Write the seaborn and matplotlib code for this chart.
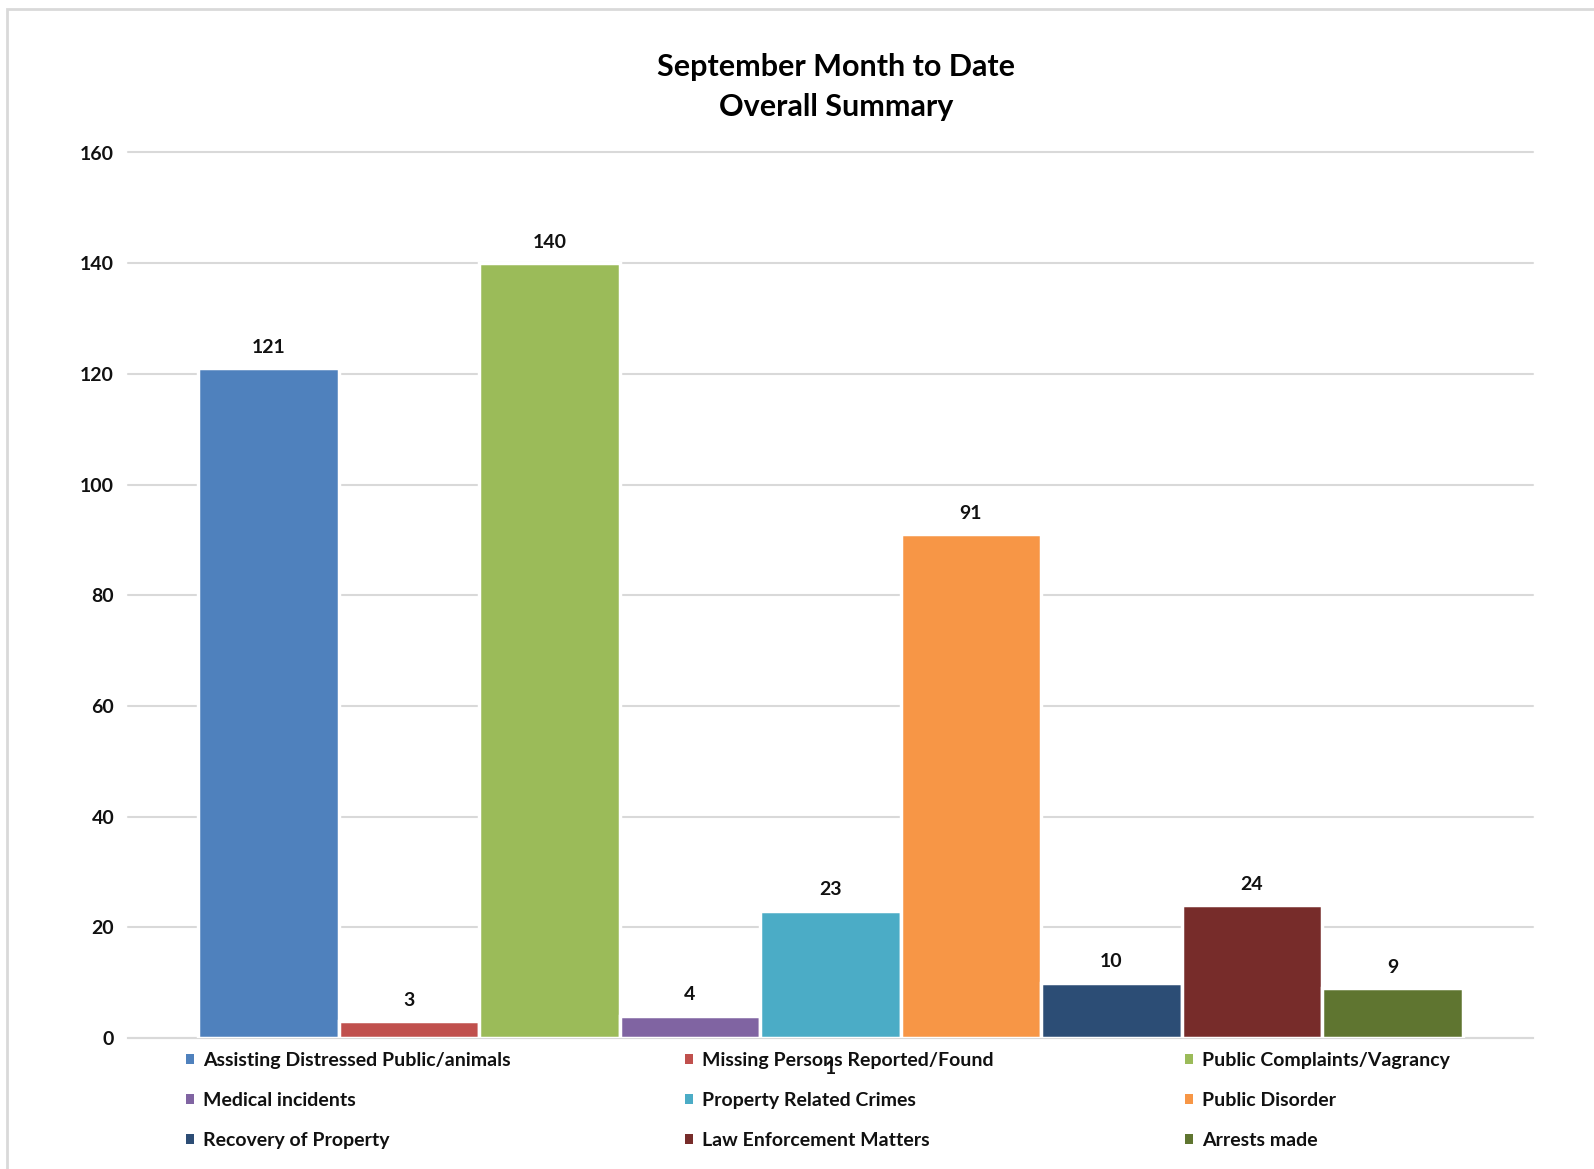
import matplotlib
matplotlib.use("Agg")
import matplotlib.pyplot as plt
import seaborn as sns
import pandas as pd
from matplotlib.patches import Patch, Rectangle

categories = ["1"]
series = [
    "Assisting Distressed Public/animals",
    "Missing Persons Reported/Found",
    "Public Complaints/Vagrancy",
    "Medical incidents",
    "Property Related Crimes",
    "Public Disorder",
    "Recovery of Property",
    "Law Enforcement Matters",
    "Arrests made",
]
values = [121, 3, 140, 4, 23, 91, 10, 24, 9]
colors = ["#4F81BD", "#C0504D", "#9BBB59", "#8064A2", "#4BACC6",
          "#F79646", "#2C4D75", "#772C2A", "#5F7530"]
yticks = [0, 20, 40, 60, 80, 100, 120, 140, 160]
title = "September Month to Date\nOverall Summary"

sns.set_theme(style="white")
FONT = ["Lato", "DejaVu Sans"]
plt.rcParams["font.family"] = FONT

df = pd.DataFrame({"cat": categories * len(series), "series": series, "value": values})

W, H = 1594, 1169
fig = plt.figure(figsize=(W / 100, H / 100), dpi=100)
ax = fig.add_axes([128 / W, 1 - 1038 / H, (1533 - 128) / W, (1038 - 152.5) / H])

sns.barplot(data=df, x="cat", y="value", hue="series", hue_order=series,
            palette=colors, saturation=1, width=0.9, dodge=True, ax=ax,
            edgecolor="white", linewidth=2.5, legend=False, zorder=3)

for cont in ax.containers:
    ax.bar_label(cont, fmt="%d", padding=9, fontsize=14, fontweight="bold",
                 color="#111111")

ax.set_xlim(-0.5, 0.5)
ax.set_ylim(0, 160)
ax.set_yticks(yticks)
ax.set_yticklabels([str(v) for v in yticks], fontsize=14, fontweight="bold",
                   color="#111111")
ax.tick_params(axis="y", length=0, pad=10)
ax.set_xlabel("")
ax.set_ylabel("")
ax.set_xticks([0])
ax.set_xticklabels(categories, fontsize=14, fontweight="bold", color="#111111")
ax.tick_params(axis="x", which="major", length=0, pad=16)
ax.set_xticks([-0.5, 0.5], minor=True)
ax.tick_params(axis="x", which="minor", length=5, width=1.5, color="#d9d9d9",
               direction="out")
ax.grid(axis="y", color="#d9d9d9", linewidth=1.5, zorder=0)
for gl in ax.get_ygridlines():
    gl.set_clip_on(False)
ax.set_axisbelow(True)
for s in ["left", "right", "top"]:
    ax.spines[s].set_visible(False)
ax.spines["bottom"].set_color("#d9d9d9")
ax.spines["bottom"].set_linewidth(1.5)

fig.text(836 / W, 1 - 87 / H, title, ha="center", va="center",
         fontsize=22, fontweight="bold", color="#000000", linespacing=1.55)

# chart frame
fig.patches.append(Rectangle((7 / W, -0.1), 1.2, 1 - 9 / H + 0.1,
                             transform=fig.transFigure, fill=False,
                             edgecolor="#d9d9d9", linewidth=2))

# legend in three columns, row-wise order
col_x = [186 / W, 685 / W, 1185 / W]
for c in range(3):
    idx = [c, c + 3, c + 6]
    handles = [Patch(facecolor=colors[i], edgecolor="none") for i in idx]
    labels = [series[i] for i in idx]
    leg = fig.legend(handles, labels, loc="upper left",
                     bbox_to_anchor=(col_x[c], 1 - 1052 / H),
                     frameon=False, prop={"weight": "bold", "size": 14},
                     handlelength=0.42, handleheight=0.42, handletextpad=0.45,
                     labelspacing=1.18, borderpad=0, borderaxespad=0)
    for t in leg.get_texts():
        t.set_color("#111111")

fig.savefig("out.png", dpi=100, facecolor="white")
